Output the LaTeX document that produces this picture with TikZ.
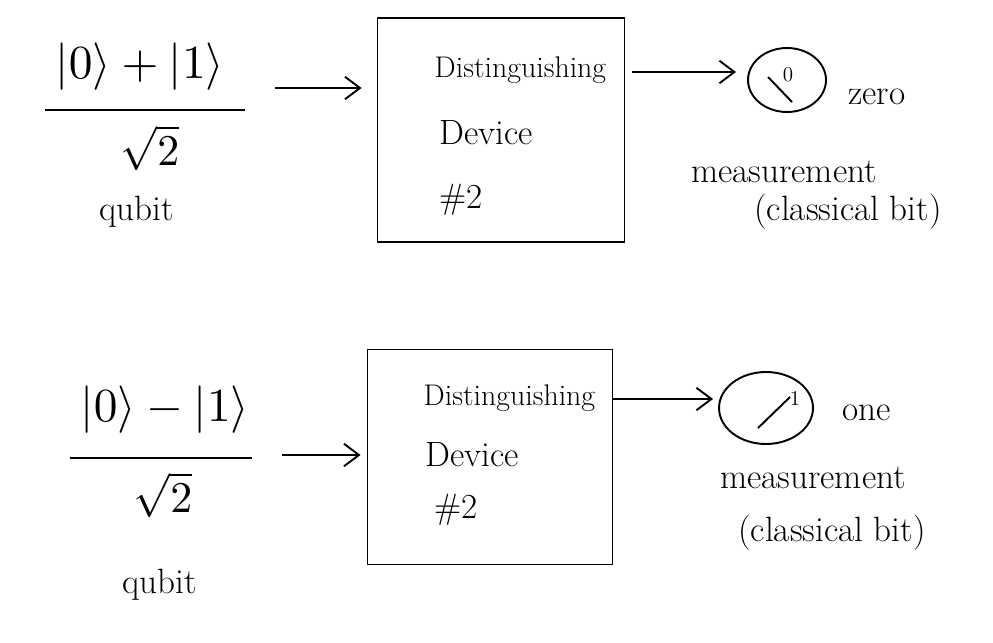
\documentclass[tikz,border=0pt]{standalone}
\usepackage{fontspec}
\usepackage{graphicx}
\usepackage{tikz}
\usetikzlibrary{arrows.meta, shapes.geometric}

\begin{document}
\begin{tikzpicture}[x=0.02cm, y=-0.02cm, line width=1.1pt,
  hand/.style={font=\fontsize{20}{24}\selectfont, inner sep=1pt},
  ket/.style={inner sep=1pt},
  device/.style={draw, rectangle, inner sep=0pt},
  meter/.style={draw, ellipse, inner sep=0pt},
  flow/.style={-{Straight Barb[length=3mm, width=4.5mm]}}]
\useasboundingbox (0,0) rectangle (993,642);
\node (num1) [ket] at (140,67) {\scalebox{2.7}{$|0\rangle + |1\rangle$}};
\node (den1) [ket] at (150,148) {\scalebox{2.5}{$\sqrt{2}$}};
\node (q1) [hand] at (137,212) {qubit};
\node (dev1) [device, minimum width=4.94cm, minimum height=4.48cm] at (501,130) {};
\node (dist1) [hand, font=\fontsize{17}{21}\selectfont, anchor=west] at (432,70) {Distinguishing};
\node (devc1) [hand, anchor=west] at (437,133) {Device};
\node (nr1) [hand, anchor=west] at (437,200) {\#2};
\node (meter1) [meter, minimum width=1.56cm, minimum height=1.28cm] at (787,80) {};
\node (d1) [font=\fontsize{12}{14}\selectfont, inner sep=0pt] at (788,75) {0};
\node (zero) [hand] at (877,97) {zero};
\node (meas1) [hand] at (784,172) {measurement};
\node (cls1) [hand] at (848,212) {(classical bit)};
\coordinate (in1) at (275,88);

\node (num2) [ket] at (165,410) {\scalebox{2.7}{$|0\rangle - |1\rangle$}};
\node (den2) [ket] at (163,495) {\scalebox{2.5}{$\sqrt{2}$}};
\node (q2) [hand] at (160,585) {qubit};
\node (dev2) [device, minimum width=4.9cm, minimum height=4.3cm] at (490,457) {};
\node (dist2) [hand, font=\fontsize{17}{21}\selectfont, anchor=west] at (421,398) {Distinguishing};
\node (devc2) [hand, anchor=west] at (423,455) {Device};
\node (nr2) [hand, anchor=west] at (432,510) {\#2};
\node (meter2) [meter, minimum width=1.88cm, minimum height=1.44cm] at (766,408) {};
\node (d2) [font=\fontsize{12}{14}\selectfont, inner sep=0pt] at (795,398) {1};
\node (one) [hand] at (867,413) {one};
\node (meas2) [hand] at (813,478) {measurement};
\node (cls2) [hand] at (832,533) {(classical bit)};
\coordinate (in2) at (282,455);

%Fraction lines:
\draw (45,110) -- (245,110);
\draw (70,458) -- (252,458);
%Needles:
\draw (meter1.center) ++(5,22) -- ++(-24,-25);
\draw (meter2.center) ++(-8,20) -- ++(32,-31);
%Flow:
\path [flow]
(in1) edge [shorten >=0.3cm] (dev1.west |- in1)
(dev1.east |- 0,72) edge [shorten <=0.14cm, shorten >=0.22cm] (meter1.west |- 0,72)
(in2) edge [shorten >=0.12cm] (dev2.west |- in2)
(dev2.east |- 0,399) edge [shorten >=0.1cm] (meter2.west |- 0,399)
;
\end{tikzpicture}
\end{document}
